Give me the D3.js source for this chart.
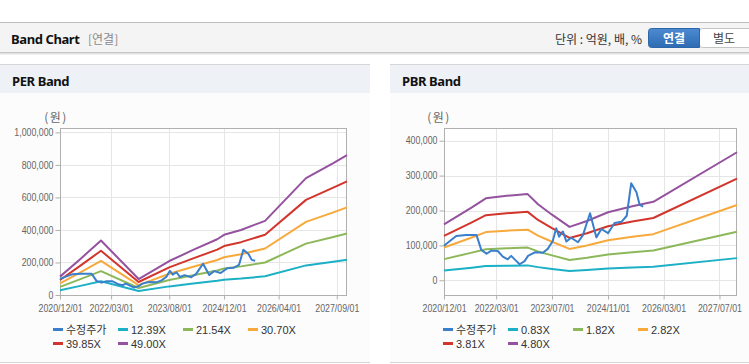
<!DOCTYPE html>
<html>
<head>
<meta charset="utf-8">
<script src="https://cdn.jsdelivr.net/npm/d3@7"></script>
<style>
  body { margin: 0; background: #fff; }
  svg { display: block; }
</style>
</head>
<body>
<div id="chart"></div>
<script>
// adjusted share price (shared by both charts)
const priceDates = ['2020-12-01','2021-02-04','2021-03-18','2021-06-12','2021-09-10','2021-10-22','2021-12-07',
  '2022-01-18','2022-03-15','2022-04-28','2022-06-10','2022-07-10','2022-08-25','2022-09-22','2022-11-04','2022-12-04',
  '2023-02-01','2023-04-13','2023-05-25','2023-07-07','2023-08-07','2023-09-01','2023-10-04','2023-11-04','2023-12-15',
  '2024-02-13','2024-03-28','2024-04-25','2024-05-28','2024-07-22','2024-09-04','2024-11-01','2024-12-28',
  '2025-02-28','2025-04-13','2025-05-22','2025-07-07','2025-08-04','2025-09-04'];
const priceValues = [99000,116000,127000,130000,130000,87000,76000,85000,84000,68000,60000,70000,55000,46000,55000,70000,
  80000,79000,90000,112000,149000,125000,140000,111000,122000,109000,130000,159000,192000,123000,147000,135000,164000,
  168000,185000,278000,252000,216000,211000];

// PER band lines
const perDates = ['2020-12-01','2021-06-01','2021-12-01','2022-11-01','2023-08-01','2024-03-01','2024-10-01',
  '2024-12-01','2025-05-01','2025-12-01','2026-12-01','2027-08-01','2027-12-01'];
const per1239 = [29000,56000,85000,25000,53000,70000,87000,94000,101000,115000,182000,205000,217000];
const per2154 = [50000,98000,147000,43000,92000,122000,151000,163000,176000,200000,316000,357000,378000];
const per3070 = [71000,139000,210000,61000,131000,174000,215000,232000,251000,286000,450000,508000,539000];
const per3985 = [92000,181000,272000,80000,170000,225000,279000,301000,325000,371000,585000,660000,699000];
const per4900 = [113000,222000,335000,98000,209000,277000,343000,370000,400000,456000,719000,811000,860000];
const perNames = ['수정주가','12.39X','21.54X','30.70X','39.85X','49.00X'];
const perYTicks = [0,200000,400000,600000,800000,1000000];
const perXTicks = ['2020-12-01','2022-03-01','2023-08-01','2024-12-01','2026-04-01','2027-09-01'];

// PBR band lines
const pbrDates = ['2020-12-01','2021-08-01','2021-12-01','2022-06-01','2022-12-01','2023-03-01','2023-07-01',
  '2023-12-01','2024-05-01','2024-11-01','2025-06-01','2025-12-01','2027-12-01'];
const pbr083 = [27700,36100,40600,41800,42700,37700,32500,26500,29400,33700,36700,38900,63500];
const pbr182 = [60700,79200,89100,91800,93700,82700,71300,58000,64500,73900,80400,85300,139200];
const pbr282 = [94000,122800,138100,142200,145100,128100,110500,89900,99900,114600,124600,132200,215600];
const pbr381 = [127000,165900,186500,192100,196100,173000,149200,121400,134900,154800,168300,178600,291300];
const pbr480 = [160000,209000,235000,242000,247000,218000,188000,153000,170000,195000,212000,225000,367000];
const pbrNames = ['수정주가','0.83X','1.82X','2.82X','3.81X','4.80X'];
const pbrYTicks = [0,100000,200000,300000,400000];
const pbrXTicks = ['2020-12-01','2022-03-01','2023-07-01','2024-11-01','2026-03-01','2027-07-01'];

const colors = ['#3a7fcb','#1cb0c6','#8db85a','#f8a93c','#d2352c','#94529f'];
const parse = d3.timeParse('%Y-%m-%d');
const fontTick = "'Liberation Sans', Arial, sans-serif";
const fontText = "'Liberation Sans', Arial, 'Noto Sans CJK KR', sans-serif";

const svg = d3.select('#chart')
  .append('svg')
  .attr('width', 749)
  .attr('height', 364);

// header bar
svg.append('rect').attr('x', 0).attr('y', 22).attr('width', 749).attr('height', 31).attr('fill', '#f4f4f4');
svg.append('line').attr('x1', 0).attr('x2', 749).attr('y1', 22.5).attr('y2', 22.5).attr('stroke', '#bdbdbd');
svg.append('line').attr('x1', 0).attr('x2', 749).attr('y1', 52.5).attr('y2', 52.5).attr('stroke', '#c6c6c6');
svg.append('line').attr('x1', 0).attr('x2', 749).attr('y1', 53.5).attr('y2', 53.5).attr('stroke', '#e2e2e2');
svg.append('line').attr('x1', 0).attr('x2', 749).attr('y1', 54.5).attr('y2', 54.5).attr('stroke', '#f0f0f0');

svg.append('text').attr('x', 11).attr('y', 43.5)
  .style('font', "bold 13px 'Noto Sans', sans-serif").style('letter-spacing', '-0.4px')
  .attr('fill', '#111').text('Band Chart');
svg.append('text').attr('x', 88).attr('y', 43.5)
  .style('font', "12px 'Noto Sans CJK KR', sans-serif").attr('fill', '#8a8a8a').text('[연결]');
svg.append('text').attr('x', 642).attr('y', 43.5).attr('text-anchor', 'end')
  .style('font', "12px 'Noto Sans CJK KR', sans-serif").attr('fill', '#333').text('단위 : 억원, 배, %');

const grad = svg.append('defs').append('linearGradient').attr('id', 'btn').attr('x1', 0).attr('x2', 0).attr('y1', 0).attr('y2', 1);
grad.append('stop').attr('offset', '0%').attr('stop-color', '#4c8bd0');
grad.append('stop').attr('offset', '100%').attr('stop-color', '#2d6cb3');
svg.append('rect').attr('x', 699.5).attr('y', 28.5).attr('width', 56).attr('height', 19).attr('rx', 3)
  .attr('fill', '#fff').attr('stroke', '#c4c4c4');
svg.append('path').attr('d', 'M699.5,28.5 H651.5 Q648.5,28.5 648.5,31.5 V44.5 Q648.5,47.5 651.5,47.5 H699.5 Z')
  .attr('fill', 'url(#btn)').attr('stroke', '#2c66a8');
svg.append('text').attr('x', 674).attr('y', 42.5).attr('text-anchor', 'middle')
  .style('font', "bold 12px 'Noto Sans CJK KR', sans-serif").attr('fill', '#fff').text('연결');
svg.append('text').attr('x', 724).attr('y', 42.5).attr('text-anchor', 'middle')
  .style('font', "12px 'Noto Sans CJK KR', sans-serif").attr('fill', '#444').text('별도');

function drawPanel(cfg) {
  const g = svg.append('g');
  // panel frame
  g.append('rect').attr('x', cfg.x0).attr('y', 93).attr('width', cfg.w).attr('height', 269).attr('fill', '#fcfcfc');
  g.append('rect').attr('x', cfg.x0).attr('y', 65).attr('width', cfg.w).attr('height', 28).attr('fill', '#eef2f7');
  g.append('line').attr('x1', cfg.x0).attr('x2', cfg.x0 + cfg.w).attr('y1', 64.5).attr('y2', 64.5).attr('stroke', '#d6d6d6');
  g.append('line').attr('x1', cfg.x0).attr('x2', cfg.x0 + cfg.w).attr('y1', 362.5).attr('y2', 362.5).attr('stroke', '#d6d6d6');
  g.append('text').attr('x', cfg.x0 + 12).attr('y', 85.5)
    .style('font', "bold 13px 'Noto Sans', sans-serif").style('letter-spacing', '-0.4px')
    .attr('fill', '#111').text(cfg.title);

  const p = cfg.plot;
  const x = d3.scaleTime()
    .domain([parse('2020-12-01'), parse('2027-12-01')])
    .range([p.l, p.r]);
  const y = d3.scaleLinear()
    .domain(cfg.yDomain)
    .range([p.b, p.t]);

  g.append('rect').attr('x', p.l).attr('y', p.t).attr('width', p.r - p.l).attr('height', p.b - p.t).attr('fill', '#fff');

  // grid
  g.selectAll('.hgrid').data(cfg.yTicks).enter().append('line')
    .attr('x1', p.l).attr('x2', p.r)
    .attr('y1', d => Math.round(y(d)) + 0.5).attr('y2', d => Math.round(y(d)) + 0.5)
    .attr('stroke', '#e6e6e6');
  g.selectAll('.vgrid').data(cfg.xTicks).enter().append('line')
    .attr('x1', d => Math.round(x(parse(d))) + 0.5).attr('x2', d => Math.round(x(parse(d))) + 0.5)
    .attr('y1', p.t).attr('y2', p.b)
    .attr('stroke', '#e6e6e6');

  // axes
  const ya = g.append('g')
    .attr('transform', `translate(${p.l + 0.5},0)`)
    .call(d3.axisLeft(y).tickValues(cfg.yTicks).tickSize(5).tickPadding(2).tickFormat(d3.format(',')));
  const xa = g.append('g')
    .attr('transform', `translate(0,${p.b + 0.5})`)
    .call(d3.axisBottom(x).tickValues(cfg.xTicks.map(parse)).tickSize(4).tickPadding(5).tickFormat(d3.timeFormat('%Y/%m/%d')));
  [ya, xa].forEach(a => {
    a.select('.domain').remove();
    a.selectAll('line').attr('stroke', '#b0b0b0');
    a.selectAll('text').attr('fill', '#666').style('font', `10px ${fontTick}`)
      .each(function () {
        // the original labels use a narrow face: squeeze the glyphs
        const w = this.getComputedTextLength();
        d3.select(this).attr('textLength', w * 0.88).attr('lengthAdjust', 'spacingAndGlyphs');
      });
  });

  g.append('rect').attr('x', p.l + 0.5).attr('y', p.t + 0.5).attr('width', p.r - p.l - 1).attr('height', p.b - p.t)
    .attr('fill', 'none').attr('stroke', '#b0b0b0');

  g.append('text').attr('x', cfg.unitX).attr('y', 122).attr('text-anchor', 'middle')
    .style('font', "12px 'Noto Sans CJK KR', sans-serif").style('letter-spacing', '1.5px')
    .attr('fill', '#666').text('(원)');

  // band lines then price
  const line = d3.line().x(d => x(d[0])).y(d => y(d[1]));
  cfg.bands.forEach((vals, i) => {
    g.append('path')
      .datum(cfg.bandDates.map((d, k) => [parse(d), vals[k]]))
      .attr('d', line)
      .attr('fill', 'none')
      .attr('stroke', colors[i + 1])
      .attr('stroke-width', 2)
      .attr('stroke-linejoin', 'round');
  });
  g.append('path')
    .datum(priceDates.map((d, k) => [parse(d), priceValues[k]]))
    .attr('d', line)
    .attr('fill', 'none')
    .attr('stroke', colors[0])
    .attr('stroke-width', 2)
    .attr('stroke-linejoin', 'round');

  // legend
  cfg.names.forEach((name, i) => {
    const lx = cfg.legendX + (i % 4) * 65;
    const ly = 329.5 + Math.floor(i / 4) * 14;
    g.append('line').attr('x1', lx).attr('x2', lx + 10).attr('y1', ly).attr('y2', ly)
      .attr('stroke', colors[i]).attr('stroke-width', 3);
    g.append('text').attr('x', lx + 13).attr('y', ly + 4)
      .style('font', `11px ${fontText}`).attr('fill', '#333').text(name);
  });
}

drawPanel({
  x0: 0, w: 370, title: 'PER Band',
  plot: { l: 60, r: 347, t: 128, b: 295 },
  yDomain: [0, 1027000], yTicks: perYTicks, xTicks: perXTicks,
  bandDates: perDates, bands: [per1239, per2154, per3070, per3985, per4900],
  names: perNames, unitX: 56, legendX: 53
});
drawPanel({
  x0: 390, w: 359, title: 'PBR Band',
  plot: { l: 444, r: 737, t: 128, b: 295 },
  yDomain: [-42200, 436500], yTicks: pbrYTicks, xTicks: pbrXTicks,
  bandDates: pbrDates, bands: [pbr083, pbr182, pbr282, pbr381, pbr480],
  names: pbrNames, unitX: 439, legendX: 443
});
</script>
</body>
</html>
